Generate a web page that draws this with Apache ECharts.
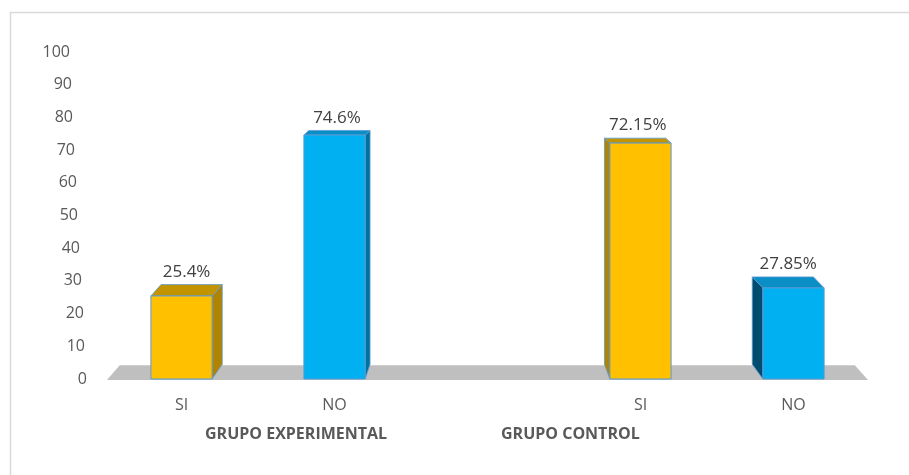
<!DOCTYPE html>
<html>
<head>
<meta charset="utf-8">
<script src="https://cdn.jsdelivr.net/npm/echarts@6/dist/echarts.min.js"></script>
<style>html,body{margin:0;padding:0;background:#fff;}#c{width:909px;height:475px;}</style>
</head>
<body>
<div id="c"></div>
<script>
var categories = ['SI', 'NO', '', 'SI', 'NO'];
var values = [25.4, 74.6, null, 72.15, 27.85];
var valueLabels = ['25.4%', '74.6%', '', '72.15%', '27.85%'];
var barKinds = ['si', 'no', '', 'si', 'no'];
var groupLabels = ['GRUPO EXPERIMENTAL', 'GRUPO CONTROL'];
var yTicks = [0, 10, 20, 30, 40, 50, 60, 70, 80, 90, 100];

var FONT = '"Open Sans", "Liberation Sans", sans-serif';
var VPX = 480, KX = -0.034, VPY = 26, KY = -0.042;
var palette = {
  si: { front: '#FFC000', side: '#B08400', top: '#C49400' },
  no: { front: '#00B0F0', side: '#0072A0', sideDark: '#004C6E', top: '#0A8EC6' }
};

var rich = {};
yTicks.forEach(function (v) {
  rich['v' + v] = { padding: [0, Math.round(v * 0.17), 0, 0], fontSize: 16, color: '#595959', fontFamily: FONT };
});

var chart = echarts.init(document.getElementById('c'), null, { renderer: 'canvas' });

var floorSeries = {
  type: 'custom',
  silent: true,
  z: 1,
  data: [0],
  renderItem: function (params, api) {
    var cs = params.coordSys;
    var x0 = cs.x + 2, x1 = cs.x + cs.width - 2;
    var y0 = api.coord([0, 0])[1] + 1;
    var dy = KY * (y0 - VPY);
    return {
      type: 'polygon',
      shape: { points: [
        [x0, y0], [x1, y0],
        [x1 + KX * (x1 - VPX), y0 + dy],
        [x0 + KX * (x0 - VPX), y0 + dy]
      ] },
      style: { fill: '#BFBFBF' }
    };
  }
};

var barSeries = {
  type: 'custom',
  z: 3,
  data: values.map(function (v, i) { return [i, v]; }),
  renderItem: function (params, api) {
    var idx = api.value(0);
    var val = api.value(1);
    if (val == null || isNaN(val)) return;
    var kind = barKinds[idx];
    var col = palette[kind];
    var top = api.coord([idx, val]);
    var bot = api.coord([idx, 0]);
    var w = api.size([1, 0])[0] * 0.4;
    var cx = top[0];
    var xl = cx - w / 2, xr = cx + w / 2;
    var yt = top[1], yb = bot[1];
    var dx = KX * (cx - VPX);
    var dyt = KY * (yt - VPY);
    var dyb = KY * (yb - VPY);
    var children = [];
    var sideX = dx > 0 ? xr : xl;
    var sideFill = (dx < 0 && kind === 'no') ? col.sideDark : col.side;
    children.push({
      type: 'polygon',
      shape: { points: [[sideX, yb], [sideX + dx, yb + dyb], [sideX + dx, yt + dyt], [sideX, yt]] },
      style: { fill: sideFill, stroke: '#5B9BD5', lineWidth: 0.8 }
    });
    children.push({
      type: 'polygon',
      shape: { points: [[xl, yt], [xr, yt], [xr + dx, yt + dyt], [xl + dx, yt + dyt]] },
      style: { fill: col.top, stroke: '#5B9BD5', lineWidth: 0.8 }
    });
    children.push({
      type: 'rect',
      shape: { x: xl, y: yt, width: w, height: yb - yt },
      style: { fill: col.front, stroke: '#5B9BD5', lineWidth: 1 }
    });
    children.push({
      type: 'text',
      style: {
        text: valueLabels[idx],
        x: cx + dx / 2,
        y: yt + dyt - 4,
        align: 'center',
        verticalAlign: 'bottom',
        fontSize: 17,
        fontFamily: FONT,
        fill: '#404040'
      }
    });
    return { type: 'group', children: children };
  }
};

chart.setOption({
  backgroundColor: '#ffffff',
  animation: false,
  grid: { left: 105, right: 39, top: 52, bottom: 96 },
  xAxis: {
    type: 'category',
    data: categories,
    axisLine: { show: false },
    axisTick: { show: false },
    axisLabel: { color: '#595959', fontSize: 16, fontFamily: FONT, margin: 18 }
  },
  yAxis: {
    type: 'value',
    min: 0, max: 100, interval: 10,
    axisLine: { show: false },
    axisTick: { show: false },
    splitLine: { show: false },
    axisLabel: {
      margin: 18,
      formatter: function (v) { return '{v' + v + '|' + v + '}'; },
      rich: rich
    }
  },
  graphic: [
    { type: 'rect', left: 8, top: 10, shape: { width: 920, height: 480 }, style: { fill: 'none', stroke: '#D9D9D9', lineWidth: 1.5 }, silent: true },
    { type: 'text', left: 295 - 90, top: 426, style: { text: groupLabels[0], fontSize: 16, fontWeight: 'bold', fontFamily: FONT, fill: '#595959' } },
    { type: 'text', left: 569 - 68, top: 426, style: { text: groupLabels[1], fontSize: 16, fontWeight: 'bold', fontFamily: FONT, fill: '#595959' } }
  ],
  series: [floorSeries, barSeries]
});
</script>
</body>
</html>
